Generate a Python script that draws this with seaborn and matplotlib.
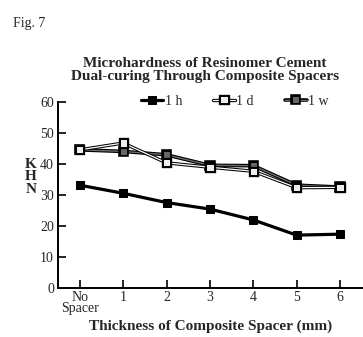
import matplotlib
matplotlib.use("Agg")
import matplotlib.pyplot as plt
import matplotlib.patheffects as pe
import seaborn as sns
import pandas as pd

positions = [0, 1, 2, 3, 4, 5, 6]
tick_labels = ["No\nSpacer", "1", "2", "3", "4", "5", "6"]
series_names = ["1 h", "1 d", "1 w"]
khn_1h = [33.2, 30.6, 27.6, 25.5, 22.0, 17.1, 17.4]
khn_1d = [44.6, 46.8, 40.4, 39.0, 37.7, 32.4, 32.5]
khn_1w = [44.6, 44.1, 43.0, 39.6, 39.5, 33.2, 32.6]

df = pd.DataFrame({
    "x": positions * 3,
    "KHN": khn_1h + khn_1d + khn_1w,
    "series": [series_names[0]] * 7 + [series_names[1]] * 7 + [series_names[2]] * 7,
})

sns.set_theme(style="ticks")
plt.rcParams["font.family"] = ["Liberation Serif", "DejaVu Serif"]

fig = plt.figure(figsize=(3.63, 3.37), dpi=100)
ax = fig.add_axes([0.16, 0.145, 0.84, 0.552])

sns.lineplot(data=df, x="x", y="KHN", hue="series", style="series",
             hue_order=series_names, style_order=series_names,
             palette=["black", "white", "#6a6a6a"],
             markers=["s", "s", "s"], dashes=False, ax=ax, legend=False)

line_h, line_d, line_w = ax.lines[:3]
line_h.set_linewidth(2.3)
line_h.set_marker("s"); line_h.set_markersize(5.5)
line_h.set_markerfacecolor("black"); line_h.set_markeredgecolor("black")
line_h.set_zorder(3)

line_d.set_linewidth(0.9)
line_d.set_markersize(5.2)
line_d.set_markerfacecolor("#eeeeee"); line_d.set_markeredgecolor("black")
line_d.set_markeredgewidth(0.7)
line_d.set_path_effects([pe.Stroke(linewidth=2.4, foreground="black"), pe.Normal()])
line_d.set_zorder(4)

line_w.set_linewidth(1.0)
line_w.set_markersize(5.2)
line_w.set_markerfacecolor("#666666"); line_w.set_markeredgecolor("black")
line_w.set_markeredgewidth(0.7)
line_w.set_path_effects([pe.Stroke(linewidth=2.6, foreground="black"), pe.Normal()])
line_w.set_zorder(3.5)

ax.set_xlim(-0.5, 6.53)
ax.set_ylim(0, 60)
ax.set_yticks([0, 10, 20, 30, 40, 50, 60])
ax.set_xticks(positions)
ax.set_xticklabels(tick_labels, fontsize=10, linespacing=0.8)
ax.tick_params(axis="both", direction="in", length=6, width=1.2, labelsize=10, color="black")
ax.tick_params(axis="y", pad=3)
ax.tick_params(axis="x", pad=2)
sns.despine(ax=ax)
for s in ["left", "bottom"]:
    ax.spines[s].set_linewidth(1.4)
    ax.spines[s].set_color("black")

ax.set_xlabel("Thickness of Composite Spacer (mm)", fontsize=11, fontweight="bold", labelpad=3)
ax.set_ylabel("")
fig.text(0.085, 0.475, "K\nH\nN", fontsize=11, fontweight="bold", ha="center", va="center",
         linespacing=0.95)

fig.text(0.565, 0.792, "Microhardness of Resinomer Cement\nDual-curing Through Composite Spacers",
         fontsize=11, fontweight="bold", ha="center", va="center", linespacing=1.0)
fig.text(0.035, 0.93, "Fig. 7", fontsize=10, ha="left", va="center")

leg = ax.legend([line_h, line_d, line_w], series_names, ncol=3, loc="lower center",
                bbox_to_anchor=(0.58, 0.94), frameon=False, fontsize=10,
                handlelength=1.6, handletextpad=0.1, columnspacing=2.2, borderaxespad=0)

fig.savefig("out.png", dpi=100)
